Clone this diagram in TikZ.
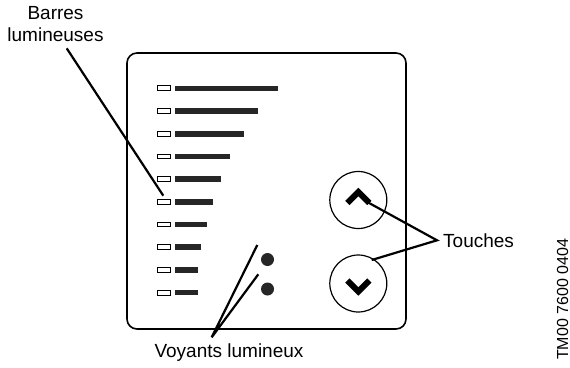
\documentclass[tikz,border=0pt]{standalone}
\usepackage{fontspec}
\setmainfont{Liberation Sans}
\usetikzlibrary{positioning, calc}
\tikzset{
  lbl/.style={font=\fontsize{19}{22}\selectfont, inner sep=0pt},
  leader/.style={line width=2.2pt},
  lamp/.style={draw, fill=white, line width=0.9pt},
  barfill/.style={fill=black!85},
  touche/.style={draw, circle, minimum size=57pt, line width=1.2pt, inner sep=0pt},
  chevron/.style={line width=6pt, miter limit=3}
}

\begin{document}
\begin{tikzpicture}[x=1pt, y=-1pt]
  \useasboundingbox (0,0) rectangle (570,367);
  % panel
  \draw[line width=1.6pt, rounded corners=10pt] (127,53) rectangle (406,329);
  % bars with their lamps
  \foreach \len [count=\i] in {277.7, 257.7, 244, 230, 220.7, 212.7, 206.7, 201, 198.3, 197.7} {
    \pgfmathsetmacro{\y}{88.3+22.7*(\i-1)}
    \draw[lamp] (157,\y-2.4) rectangle (170.5,\y+2.4);
    \fill[barfill] (174.5,\y-2.8) rectangle (\len,\y+2.8);
  }
  % lights
  \foreach \x/\y in {267.5/259.5, 267.5/289}
    \fill[barfill] (\x,\y) circle (6.5pt);
  % keys
  \node[touche] (up) at (358.3,200) {};
  \node[touche] (down) at (358.3,283.5) {};
  \draw[chevron] ($(up)+(-11,3)$) -- ($(up)+(0,-8)$) -- ($(up)+(11,3)$);
  \draw[chevron] ($(down)+(-11,-3)$) -- ($(down)+(0,8)$) -- ($(down)+(11,-3)$);
  % labels
  \node[lbl, align=center, anchor=south] (barres) at (55.5,42) {Barres\\lumineuses};
  \node[lbl, anchor=west, inner xsep=6pt] (touches) at (437,240.3) {Touches};
  \node[lbl, anchor=base] (voyants) at (229,357) {Voyants lumineux};
  \node[font=\fontsize{16}{18}\selectfont, rotate=90, inner sep=0pt] (tm) at (562.5,299.5) {TM00 7600 0404};
  % leader lines
  \coordinate (barresEnd) at (66.7,48.3);
  \coordinate (lamp6) at (163.3,195.7);
  \coordinate (upEnd) at (366.7,201.7);
  \coordinate (downEnd) at (371.7,260);
  \coordinate (voyantsEnd) at (211.7,337.3);
  \coordinate (light1) at (257.3,245);
  \coordinate (light2) at (258.3,274.3);
  \draw[leader] (barresEnd) -- (lamp6);
  \draw[leader] (upEnd) -- (touches.west) -- (downEnd);
  \draw[leader] (light1) -- (voyantsEnd) -- (light2);
\end{tikzpicture}
\end{document}
